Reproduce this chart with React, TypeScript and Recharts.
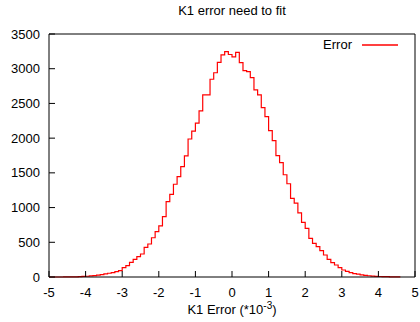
import React from "react";
import { Line, LineChart, XAxis, YAxis } from "recharts";

// histogram bins, 0.1 wide, first bin starts at -5.0
const binStart = -5.0;
const binWidth = 0.1;
const counts = [
  0, 0, 0, 0, 1, 1, 2, 3, 5, 8,
  11, 15, 21, 28, 35, 44, 54, 64, 78, 91,
  134, 163, 211, 255, 293, 331, 427, 475, 565, 653,
  735, 869, 1085, 1191, 1336, 1446, 1590, 1744, 1988, 2100,
  2215, 2392, 2622, 2622, 2848, 2942, 3090, 3200, 3245, 3205,
  3170, 3236, 3088, 2973, 2958, 2872, 2695, 2622, 2440, 2310,
  2108, 1964, 1748, 1646, 1473, 1343, 1132, 1064, 925, 788,
  700, 555, 485, 437, 380, 317, 255, 207, 173, 134,
  101, 80, 62, 50, 40, 32, 24, 18, 13, 10,
  7, 5, 4, 3, 2, 1,
];

const xTicks = [-5, -4, -3, -2, -1, 0, 1, 2, 3, 4, 5];
const yTicks = [0, 500, 1000, 1500, 2000, 2500, 3000, 3500];

const data = counts.map((c, i) => ({
  x: +(binStart + i * binWidth).toFixed(2),
  y: c,
}));
data.push({
  x: +(binStart + counts.length * binWidth).toFixed(2),
  y: counts[counts.length - 1],
});

const font = "'Liberation Sans', Arial, sans-serif";

const App = () => {
  return (
    <div
      style={{
        position: "absolute",
        left: 0,
        top: 0,
        width: 420,
        height: 322,
        background: "#fff",
        fontFamily: font,
        color: "#000",
      }}
    >
      <LineChart
        width={420}
        height={322}
        data={data}
        margin={{ top: 33, right: 4, left: 0, bottom: 0 }}
        style={{ fontFamily: font }}
      >
        <XAxis
          xAxisId="b"
          dataKey="x"
          type="number"
          domain={[-5, 5]}
          ticks={xTicks}
          height={45}
          stroke="#000"
          tickSize={-6}
          tickMargin={17}
          tick={{ fill: "#000", fontSize: 13 }}
        />
        <XAxis
          xAxisId="t"
          orientation="top"
          dataKey="x"
          type="number"
          domain={[-5, 5]}
          ticks={xTicks}
          height={1}
          stroke="#000"
          tickSize={-6}
          tick={false}
        />
        <YAxis
          yAxisId="l"
          type="number"
          domain={[0, 3500]}
          ticks={yTicks}
          width={49}
          stroke="#000"
          tickSize={-6}
          tickMargin={15}
          tick={{ fill: "#000", fontSize: 13 }}
        />
        <YAxis
          yAxisId="r"
          orientation="right"
          type="number"
          domain={[0, 3500]}
          ticks={yTicks}
          width={1}
          stroke="#000"
          tickSize={-6}
          tick={false}
        />
        {/* invisible series so the mirrored top/right axes get drawn */}
        <Line
          xAxisId="t"
          yAxisId="r"
          type="stepAfter"
          dataKey="y"
          stroke="none"
          dot={false}
          activeDot={false}
          isAnimationActive={false}
        />
        <Line
          xAxisId="b"
          yAxisId="l"
          type="stepAfter"
          dataKey="y"
          stroke="#ff0000"
          strokeWidth={1.2}
          dot={false}
          isAnimationActive={false}
        />
      </LineChart>
      <div
        style={{
          position: "absolute",
          left: 49,
          width: 366,
          top: 3,
          textAlign: "center",
          fontSize: 13,
        }}
      >
        K1 error need to fit
      </div>
      <div
        style={{
          position: "absolute",
          left: 49,
          width: 366,
          top: 302,
          textAlign: "center",
          fontSize: 13,
        }}
      >
        K1 Error (*10<sup style={{ fontSize: 10, lineHeight: 0 }}>-3</sup>)
      </div>
      <div
        style={{
          position: "absolute",
          left: 290,
          width: 62,
          top: 37,
          textAlign: "right",
          fontSize: 13,
        }}
      >
        Error
      </div>
      <svg
        width={40}
        height={6}
        style={{ position: "absolute", left: 360, top: 42 }}
      >
        <line x1={2} y1={3} x2={38} y2={3} stroke="#ff0000" strokeWidth={1.3} />
      </svg>
    </div>
  );
};

export default App;
